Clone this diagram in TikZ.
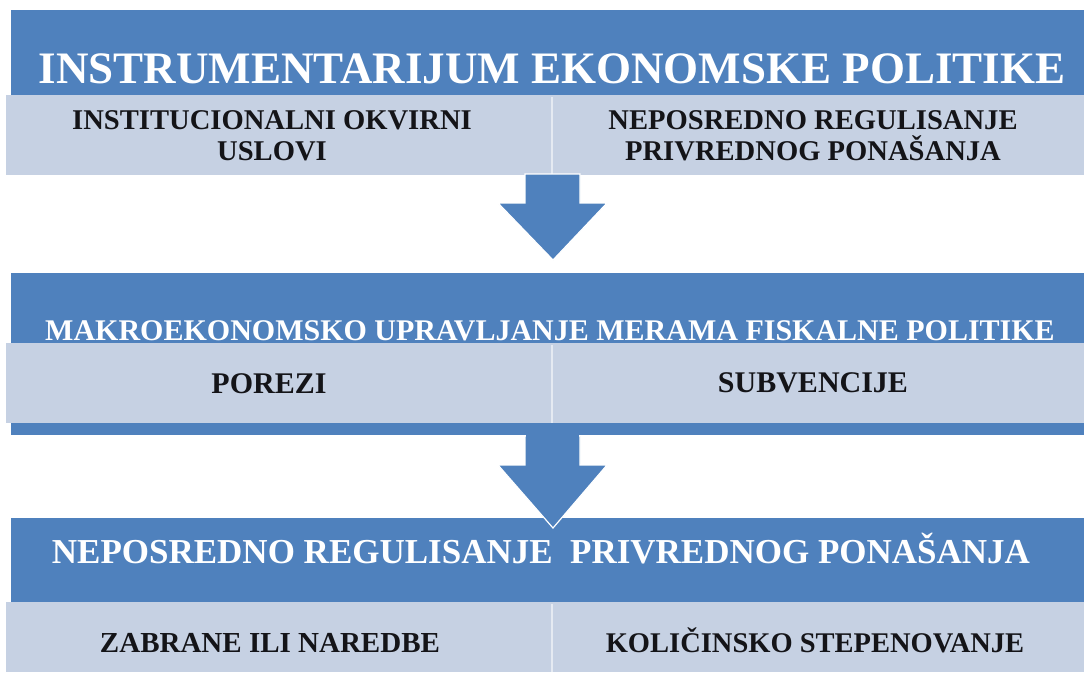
\documentclass[tikz,border=0pt]{standalone}
\usepackage{fontspec}
\setmainfont{Liberation Serif}
\definecolor{hdrblue}{RGB}{79,129,189}
\definecolor{cellgray}{RGB}{198,209,227}
\definecolor{txtdark}{RGB}{20,20,24}
\begin{document}
\begin{tikzpicture}[x=1pt,y=-1pt,
  hdr/.style={fill=hdrblue,draw=none},
  cell/.style={fill=cellgray,draw=none},
  sep/.style={draw=white,opacity=0.55,line width=1.2pt},
  blockarrow/.style={fill=hdrblue,draw=white,line width=1.2pt,line join=miter},
  ttl/.style={text=white,font=\bfseries,inner sep=0pt,anchor=base},
  celltxt/.style={text=txtdark,font=\bfseries,inner sep=0pt,anchor=base,align=center}]
\useasboundingbox (0,0) rectangle (1084,672);
\fill[white] (0,0) rectangle (1084,672);
% top block
\path[hdr] (11,10) rectangle (1084,95);
\path[cell] (6,95) rectangle (1084,175);
\draw[sep] (552,97) -- (552,175);
\node[ttl,font=\bfseries\fontsize{45}{50}\selectfont] (t1) at (552,83) {INSTRUMENTARIJUM EKONOMSKE POLITIKE};
\node[celltxt,font=\bfseries\fontsize{28.6}{31}\selectfont] (c1a) at (272,160) {INSTITUCIONALNI OKVIRNI\\USLOVI};
\node[celltxt,font=\bfseries\fontsize{28.6}{31}\selectfont] (c1b) at (813,160) {NEPOSREDNO REGULISANJE\\PRIVREDNOG PONAŠANJA};
% arrow 1
\draw[blockarrow] (525,174) -- (580,174) -- (580,203) -- (607,203) -- (553,260) -- (498,203) -- (525,203) -- cycle;
% middle block
\path[hdr] (11,273) rectangle (1084,343);
\path[cell] (6,343) rectangle (1084,423);
\path[hdr] (11,423) rectangle (1084,435);
\draw[sep] (552,345) -- (552,423);
\node[ttl,font=\bfseries\fontsize{30}{34}\selectfont] (t2) at (550,340) {MAKROEKONOMSKO UPRAVLJANJE MERAMA FISKALNE POLITIKE};
\node[celltxt,font=\bfseries\fontsize{30}{34}\selectfont] (c2a) at (269,393) {POREZI};
\node[celltxt,font=\bfseries\fontsize{30}{34}\selectfont] (c2b) at (813,392) {SUBVENCIJE};
% bottom block
\path[hdr] (11,518) rectangle (1084,602);
\path[cell] (6,602) rectangle (1084,672);
\draw[sep] (552,604) -- (552,672);
% arrow 2
\draw[blockarrow] (525,436) -- (580,436) -- (580,465) -- (607,465) -- (553,528) -- (498,465) -- (525,465) -- cycle;
\fill[hdrblue] (526,430) rectangle (579,437);
\node[ttl,font=\bfseries\fontsize{35}{40}\selectfont] (t3) at (541,563) {NEPOSREDNO REGULISANJE\ \ PRIVREDNOG PONAŠANJA};
\node[celltxt,font=\bfseries\fontsize{29}{33}\selectfont] (c3a) at (270,652) {ZABRANE ILI NAREDBE};
\node[celltxt,font=\bfseries\fontsize{28.5}{33}\selectfont] (c3b) at (815,652) {KOLIČINSKO STEPENOVANJE};
\end{tikzpicture}
\end{document}
